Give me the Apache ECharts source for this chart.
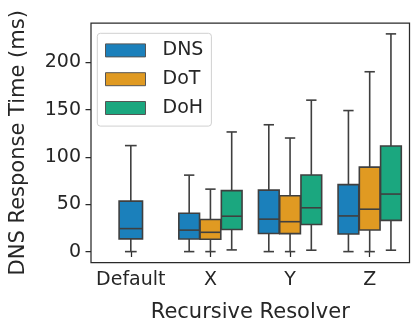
<!DOCTYPE html>
<html><head><meta charset="utf-8">
<script src="https://cdn.jsdelivr.net/npm/echarts@6/dist/echarts.min.js"></script>
<style>html,body{margin:0;padding:0;background:#fff}#c{width:416px;height:332px}</style>
</head><body><div id="c"></div>
<script>
const categories = ['Default', 'X', 'Y', 'Z'];
const yTicks = [0, 50, 100, 150, 200];
const seriesNames = ['DNS', 'DoT', 'DoH'];
// each entry: [min, q1, median, q3, max]; null = not measured
const dnsStats = [[0, 13.5, 24.3, 53.3, 112], [0, 13.4, 22.7, 40.5, 80.8], [0, 19.2, 34.3, 65, 134], [0, 18.6, 37.7, 70.8, 149]];
const dotStats = [null, [0, 13.1, 20.4, 34, 66], [0, 19, 31.6, 59, 120], [0, 22.8, 44.8, 89.2, 190]];
const dohStats = [null, [1.8, 23.3, 37.4, 64.4, 126.4], [1.5, 28.7, 46.3, 81, 160], [1.5, 33, 60.8, 111.6, 230]];

const allStats = [dnsStats, dotStats, dohStats];
const colors = ['#1b80bb', '#e09a22', '#1ba77f'];
const edge = '#3f3f3f';
const FONT = 'DejaVu Sans';
const TXT = '#262626';

function toData(stats) {
  const out = [];
  stats.forEach((s, i) => { if (s) out.push([i].concat(s)); });
  return out;
}

function renderItem(params, api) {
  const cat = api.value(0);
  const band = api.size([1, 0])[0];
  const si = params.seriesIndex;
  const nPresent = allStats.filter(s => s[cat]).length;
  let w, off;
  if (nPresent === 1) { w = band * 0.294; off = 0; }
  else { w = band * 0.26; off = (si - 1) * band * 0.267; }
  const cx = api.coord([cat, 0])[0] + off;
  const y = k => api.coord([cat, api.value(k)])[1];
  const pMin = y(1), pQ1 = y(2), pMed = y(3), pQ3 = y(4), pMax = y(5);
  const ls = { stroke: edge, lineWidth: 1.6 };
  return {
    type: 'group',
    children: [
      { type: 'line', shape: { x1: cx, y1: pMin, x2: cx, y2: pQ1 }, style: ls },
      { type: 'line', shape: { x1: cx, y1: pQ3, x2: cx, y2: pMax }, style: ls },
      { type: 'line', shape: { x1: cx - w / 4, y1: pMin, x2: cx + w / 4, y2: pMin }, style: ls },
      { type: 'line', shape: { x1: cx - w / 4, y1: pMax, x2: cx + w / 4, y2: pMax }, style: ls },
      { type: 'rect', shape: { x: cx - w / 2, y: pQ3, width: w, height: pQ1 - pQ3 },
        style: { fill: colors[si], stroke: edge, lineWidth: 1.6 } },
      { type: 'line', shape: { x1: cx - w / 2, y1: pMed, x2: cx + w / 2, y2: pMed }, style: ls }
    ]
  };
}

const chart = echarts.init(document.getElementById('c'), null, { renderer: 'canvas' });
chart.setOption({
  animation: false,
  backgroundColor: '#fff',
  grid: { left: 87.5, right: 6.5, top: 23, bottom: 69.5, show: true, borderColor: '#2a2a2a', borderWidth: 1.25, backgroundColor: 'transparent' },
  legend: {
    orient: 'vertical', left: 97.3, top: 33.3,
    padding: [7.6, 8, 8.6, 7.7],
    itemWidth: 40, itemHeight: 13, itemGap: 9.8,
    backgroundColor: '#fff', borderColor: '#d0d0d0', borderWidth: 1, borderRadius: 3,
    icon: 'rect',
    textStyle: { fontFamily: FONT, fontSize: 19, color: TXT, padding: [0, 0, 0, 12] },
    data: seriesNames.map((n, i) => ({ name: n, itemStyle: { color: colors[i], borderColor: '#555', borderWidth: 1 } }))
  },
  xAxis: {
    type: 'category', data: categories, boundaryGap: true,
    axisLine: { show: false },
    axisTick: { show: true, interval: 0, alignWithLabel: true, length: 5.5, lineStyle: { color: '#2a2a2a', width: 1.25 } },
    axisLabel: { interval: 0, fontFamily: FONT, fontSize: 19, color: TXT, margin: 8.5 },
    splitLine: { show: false },
    name: 'Recursive Resolver', nameLocation: 'middle', nameGap: 40,
    nameTextStyle: { fontFamily: FONT, fontSize: 21, color: TXT }
  },
  yAxis: {
    type: 'value', min: -11.5, max: 241.5,
    axisLine: { show: false },
    axisTick: { show: true, length: 5.5, customValues: yTicks, lineStyle: { color: '#2a2a2a', width: 1.25 } },
    axisLabel: { fontFamily: FONT, fontSize: 19, color: TXT, margin: 10, customValues: yTicks },
    splitLine: { show: false },
    name: 'DNS Response Time (ms)', nameLocation: 'middle', nameGap: 62, nameRotate: 90,
    nameTextStyle: { fontFamily: FONT, fontSize: 21, color: TXT }
  },
  series: seriesNames.map((n, i) => ({
    name: n, type: 'custom', renderItem: renderItem,
    itemStyle: { color: colors[i] },
    encode: { x: 0, y: [1, 2, 3, 4, 5] },
    data: toData(allStats[i])
  }))
});
</script>
</body></html>
